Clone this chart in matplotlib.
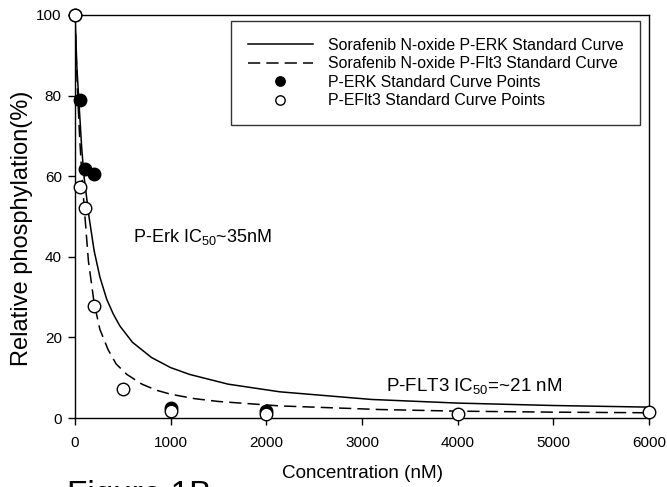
import matplotlib
matplotlib.use("Agg")
import matplotlib.pyplot as plt

plt.rcParams['font.family'] = ['Liberation Sans', 'DejaVu Sans']
plt.rcParams['mathtext.fontset'] = 'custom'
plt.rcParams['mathtext.rm'] = 'Liberation Sans'
plt.rcParams['mathtext.it'] = 'Liberation Sans:italic'
plt.rcParams['mathtext.bf'] = 'Liberation Sans:bold'

# fitted curves
erk_curve_x = [0, 20, 42, 70, 94, 146, 200, 260, 331, 400, 470, 600, 800, 1000, 1200,
               1600, 2140, 3100, 4000, 5000, 6000]
erk_curve_y = [100, 87, 78, 67, 60, 50, 41.5, 35, 29.5, 25.8, 22.8, 18.8, 15.0, 12.5, 10.8,
               8.4, 6.5, 4.6, 3.7, 3.1, 2.7]
flt3_curve_x = [0, 15, 30, 50, 70, 94, 140, 200, 260, 345, 430, 543, 700, 850, 1000, 1250,
                1500, 2140, 3190, 4000, 5000, 6000]
flt3_curve_y = [100, 88, 79, 69, 61, 53, 39, 28.5, 22, 17, 13.4, 10.8, 8.4, 6.9, 5.9, 4.8,
                4.1, 3.0, 2.1, 1.7, 1.45, 1.3]

# measured points
erk_x = [0, 50, 100, 200, 1000, 2000]
erk_y = [100, 79, 61.8, 60.5, 2.5, 1.7]
flt3_x = [0, 50, 100, 200, 500, 1000, 2000, 4000, 6000]
flt3_y = [100, 57.3, 52, 27.8, 7.2, 1.7, 1.0, 1.0, 1.5]

legend_labels = ["Sorafenib N-oxide P-ERK Standard Curve",
                 "Sorafenib N-oxide P-Flt3 Standard Curve",
                 "P-ERK Standard Curve Points",
                 "P-EFlt3 Standard Curve Points"]

W, H = 667, 487
fig = plt.figure(figsize=(W / 100, H / 100), dpi=100)
ax = fig.add_axes([75 / W, 1 - 418 / H, (649 - 75) / W, (418 - 15) / H])

l1, = ax.plot(erk_curve_x, erk_curve_y, color='black', lw=1.1, zorder=2)
l2, = ax.plot(flt3_curve_x, flt3_curve_y, color='black', lw=1.1, dashes=(8, 4), zorder=2)
p1, = ax.plot(erk_x, erk_y, 'o', color='black', mfc='black', mec='black', ms=9,
              mew=1, clip_on=False, zorder=3)
p2, = ax.plot(flt3_x, flt3_y, 'o', color='black', mfc='white', mec='black', ms=9,
              mew=1, clip_on=False, zorder=4)

ax.set_xlim(0, 6000)
ax.set_ylim(0, 100)
ax.set_xticks([0, 1000, 2000, 3000, 4000, 5000, 6000])
ax.set_yticks([0, 20, 40, 60, 80, 100])
ax.tick_params(direction='out', length=5, width=1, labelsize=11, top=False, right=False,
               colors='black')
ax.tick_params(axis='x', pad=8)
ax.tick_params(axis='y', pad=4.5)
for s in ax.spines.values():
    s.set_linewidth(1)

leg = ax.legend([l1, l2, p1, p2], legend_labels, loc='upper right',
                bbox_to_anchor=(640 / W, 1 - 21 / H), bbox_transform=fig.transFigure,
                fontsize=11.4, frameon=True, fancybox=False, edgecolor='black',
                handlelength=4.1, handletextpad=0.95, labelspacing=0.22,
                borderpad=1.05, borderaxespad=0, markerscale=0.75)
leg.get_frame().set_linewidth(1)

ax.text(606, 44.9, r"P-Erk IC$_{50}$~35nM", fontsize=13, va='center', ha='left')
ax.text(3250, 7.9, r"P-FLT3 IC$_{50}$=~21 nM", fontsize=13.5, va='center', ha='left')

fig.text(22 / W, 1 - 228 / H, "Relative phosphylation(%)", rotation=90, fontsize=17,
         ha='center', va='center')
fig.text(362 / W, 1 - 474 / H, "Concentration (nM)", fontsize=13.6, ha='center', va='center')
fig.text(67 / W, 1 - 480 / H, "Figure 1B", fontsize=24, ha='left', va='top')

fig.savefig("out.png", dpi=100)
